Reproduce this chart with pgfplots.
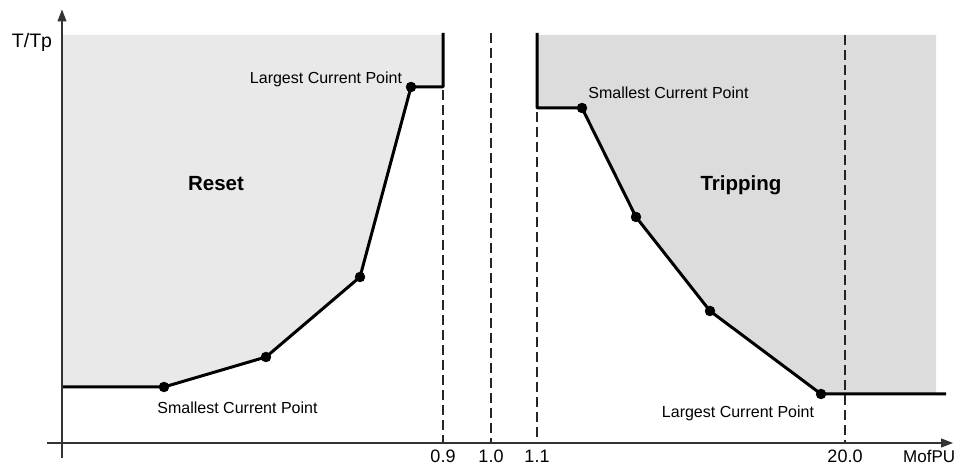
\documentclass[border=0pt]{standalone}
\usepackage{fontspec}
\setmainfont{Liberation Sans}
\usepackage{pgfplots}
\pgfplotsset{compat=1.18}
\usetikzlibrary{arrows.meta}

\definecolor{resetfill}{HTML}{E9E9E9}
\definecolor{tripfill}{HTML}{DCDCDC}

\begin{document}
\begin{tikzpicture}
\begin{axis}[
    x=1pt, y=1pt,
    xmin=-15, xmax=891,
    ymin=-15, ymax=433.5,
    axis lines=middle,
    axis on top,
    clip=false,
    axis line style={line width=1.2pt, black!80, -{Triangle[length=12pt,width=9pt]}},
    xtick={381,429,475,783},
    xticklabels={{0.9},{1.0},{1.1},{20.0}},
    ytick=\empty,
    major tick length=0pt,
    xticklabel style={font=\fontsize{18}{20}\selectfont, anchor=base, yshift=-20pt, inner sep=0pt},
]
% shaded regions
\addplot[draw=none, fill=resetfill] coordinates {
    (0,408) (0,56) (102,56) (204,86) (298,166) (349,356) (381,356) (381,408)
} -- cycle;
\addplot[draw=none, fill=tripfill] coordinates {
    (475,408) (475,335) (520,335) (574,226) (648,132) (759,49) (874,49) (874,408)
} -- cycle;

% dashed guides at 0.9, 1.0, 1.1 and 20.0
\addplot[black!85, line width=1.3pt, dash pattern=on 10pt off 5pt] coordinates {(381,353) (381,0)};
\addplot[black!85, line width=1.3pt, dash pattern=on 10pt off 5pt] coordinates {(429,410) (429,0)};
\addplot[black!85, line width=1.3pt, dash pattern=on 10pt off 5pt] coordinates {(475,331) (475,0)};
\addplot[black!85, line width=1.3pt, dash pattern=on 10pt off 5pt] coordinates {(783,408) (783,0)};

% reset curve
\addplot[black, line width=3pt, line join=round] coordinates {
    (0,56) (102,56) (204,86) (298,166) (349,356) (381,356) (381,410)
};
\addplot[only marks, mark=*, mark size=5pt, black] coordinates {
    (102,56) (204,86) (298,166) (349,356)
};

% tripping curve
\addplot[black, line width=3pt, line join=round] coordinates {
    (475,410) (475,335) (520,335) (574,226) (648,132) (759,49) (884,49)
};
\addplot[only marks, mark=*, mark size=5pt, black] coordinates {
    (520,335) (574,226) (648,132) (759,49)
};

% labels
\node[anchor=base, font=\fontsize{19.5}{22}\selectfont] at (axis cs:-30,395) {T/Tp};
\node[anchor=base west, inner sep=0pt, font=\fontsize{17}{19}\selectfont] at (axis cs:841,-20) {MofPU};
\node[anchor=base, inner sep=0pt, font=\fontsize{16}{18}\selectfont] at (axis cs:264,359) {Largest Current Point};
\node[anchor=base, inner sep=0pt, font=\fontsize{16}{18}\selectfont] at (axis cs:175.5,29) {Smallest Current Point};
\node[anchor=base, inner sep=0pt, font=\fontsize{16}{18}\selectfont] at (axis cs:606.5,344) {Smallest Current Point};
\node[anchor=base, inner sep=0pt, font=\fontsize{16}{18}\selectfont] at (axis cs:676,25) {Largest Current Point};
\node[anchor=base, inner sep=0pt, font=\bfseries\fontsize{20.5}{23}\selectfont] at (axis cs:154,252) {Reset};
\node[anchor=base, inner sep=0pt, font=\bfseries\fontsize{20.5}{23}\selectfont] at (axis cs:679,252) {Tripping};

\coordinate (bbsw) at (axis cs:-62,-22);
\coordinate (bbne) at (axis cs:894,443);
\end{axis}
\pgfresetboundingbox
\path (bbsw) rectangle (bbne);
\end{tikzpicture}
\end{document}
